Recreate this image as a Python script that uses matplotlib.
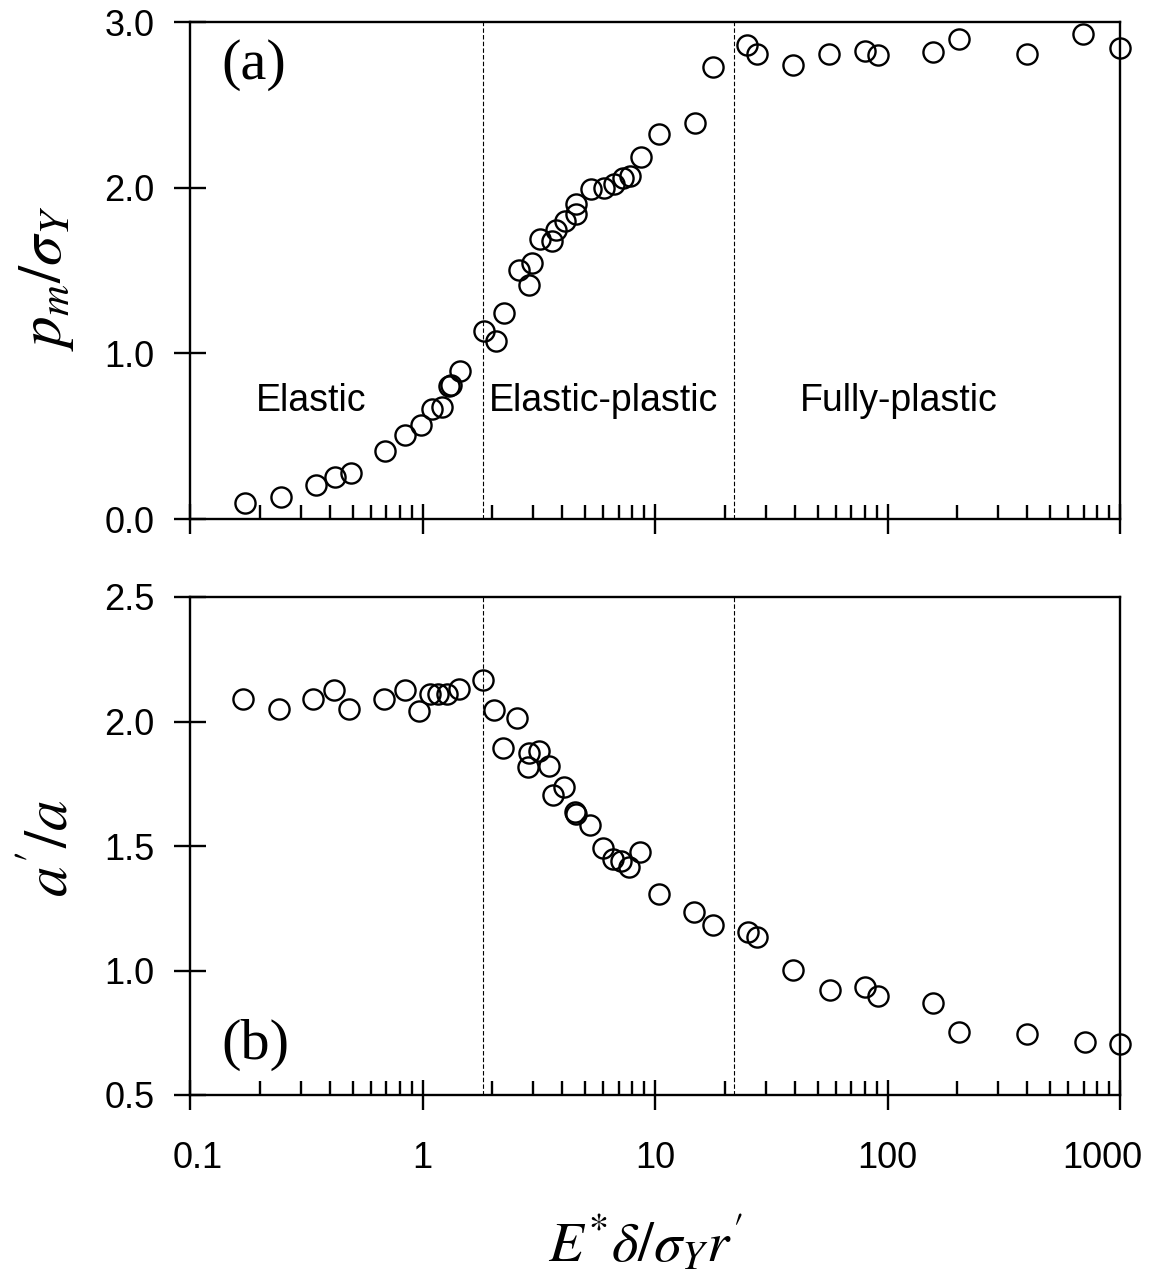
import matplotlib
matplotlib.use("Agg")
import matplotlib.pyplot as plt
from matplotlib.ticker import LogLocator, FixedLocator, NullFormatter, FixedFormatter
from matplotlib.transforms import ScaledTranslation

plt.rcParams['font.family'] = ['Liberation Sans', 'DejaVu Sans']
plt.rcParams['mathtext.fontset'] = 'stix'

# ---- data: panel (a) ----
x_a = [0.172, 0.246, 0.348, 0.42, 0.492, 0.69, 0.84, 0.986, 1.10, 1.21, 1.30, 1.32,
       1.45, 1.84, 2.07, 2.24, 2.60, 2.87, 2.96, 3.20, 3.61, 3.75, 4.10, 4.57, 4.57,
       5.31, 6.03, 6.66, 7.28, 7.8, 8.71, 10.4, 14.9, 17.8, 24.9, 27.5, 39.2, 56.0,
       80.0, 91.0, 157.0, 203.0, 398.0, 693.0, 1000.0]
pm_sy = [0.097, 0.133, 0.205, 0.254, 0.278, 0.41, 0.507, 0.567, 0.664, 0.676, 0.803, 0.81,
         0.893, 1.135, 1.074, 1.243, 1.503, 1.412, 1.545, 1.69, 1.68, 1.745, 1.80, 1.84, 1.90,
         1.99, 2.00, 2.02, 2.058, 2.07, 2.185, 2.324, 2.39, 2.728, 2.86, 2.806, 2.74, 2.806,
         2.824, 2.80, 2.818, 2.897, 2.806, 2.927, 2.842]

# ---- data: panel (b) ----
x_b = [0.169, 0.241, 0.338, 0.416, 0.483, 0.683, 0.841, 0.966, 1.077, 1.166, 1.274, 1.435,
       1.82, 2.03, 2.55, 2.22, 2.87, 3.17, 2.84, 3.50, 4.06, 3.64, 4.53, 4.57, 5.25, 5.97,
       6.59, 7.14, 7.73, 8.61, 10.4, 14.7, 17.8, 25.1, 27.5, 39.3, 56.6, 80.0, 91.0, 157.0,
       203.0, 398.0, 706.0, 1000.0]
ap_a = [2.09, 2.05, 2.09, 2.126, 2.05, 2.09, 2.126, 2.042, 2.11, 2.11, 2.11, 2.13,
        2.167, 2.046, 2.014, 1.894, 1.873, 1.882, 1.817, 1.821, 1.737, 1.705, 1.637, 1.628,
        1.584, 1.492, 1.448, 1.44, 1.416, 1.476, 1.307, 1.235, 1.183, 1.155, 1.135, 1.002,
        0.922, 0.934, 0.898, 0.869, 0.753, 0.745, 0.713, 0.705]

boundaries = [1.82, 21.9]
regions = ["Elastic", "Elastic-plastic", "Fully-plastic"]
region_x = [0.331, 6.03, 112.0]
region_y = 0.712
xticks = [0.1, 1, 10, 100, 1000]
xticklabels = ["0.1", "1", "10", "100", "1000"]
yticks_a = [0.0, 1.0, 2.0, 3.0]
yticks_b = [0.5, 1.0, 1.5, 2.0, 2.5]

fig = plt.figure(figsize=(11.57, 12.84), dpi=100)
L, W = 190/1157, 930/1157
ax1 = fig.add_axes([L, 1-519/1284, W, 497/1284])
ax2 = fig.add_axes([L, 1-1095/1284, W, 498/1284])

mk = dict(marker='o', ls='none', ms=14.5, mfc='none', mec='black', mew=1.7, clip_on=False, zorder=5)
ax1.plot(x_a, pm_sy, **mk)
ax2.plot(x_b, ap_a, **mk)

for ax, yt, ylim in ((ax1, yticks_a, (0, 3)), (ax2, yticks_b, (0.5, 2.5))):
    ax.set_xscale('log')
    ax.set_xlim(0.1, 1000)
    ax.set_ylim(*ylim)
    ax.xaxis.set_major_locator(FixedLocator(xticks))
    ax.xaxis.set_minor_locator(LogLocator(base=10, subs=range(2, 10), numticks=20))
    ax.xaxis.set_minor_formatter(NullFormatter())
    ax.set_yticks(yt)
    ax.set_yticklabels([f"{v:.1f}" for v in yt])
    for b in boundaries:
        ax.axvline(b, color='black', lw=0.8, ls=(0, (4, 2)), zorder=1)
    for s in ax.spines.values():
        s.set_linewidth(1.7)
    ax.tick_params(axis='x', which='major', direction='inout', length=22, width=1.7,
                   labelsize=26, pad=22)
    ax.tick_params(axis='x', which='minor', direction='in', length=10, width=1.7)
    ax.tick_params(axis='y', which='major', direction='inout', length=23, width=1.7,
                   labelsize=26, pad=14)

ax1.xaxis.set_major_formatter(NullFormatter())
ax2.xaxis.set_major_formatter(FixedFormatter(xticklabels))

for t, xr in zip(regions, region_x):
    ax1.text(xr, region_y, t, ha='center', va='center', fontsize=27)

ax1.text(0.034, 0.913, "(a)", transform=ax1.transAxes, ha='left', va='center',
         fontsize=42, family='Liberation Serif')
ax2.text(0.034, 0.10, "(b)", transform=ax2.transAxes, ha='left', va='center',
         fontsize=42, family='Liberation Serif')

fig.text(46/1157, 1-278/1284, r'$p_m/\sigma_Y$', fontsize=44, rotation=90,
         ha='center', va='center')
fig.text(52/1157, 1-848/1284, r'$a^{\prime}/a$', fontsize=44, rotation=90,
         ha='center', va='center')
fig.text(645/1157, 1-1245/1284, r'$E^{*}\delta/\sigma_Y r^{\prime}$', fontsize=41,
         ha='center', va='center')

# nudge the end tick labels inward as in the reference
fig.canvas.draw()
labels = ax2.xaxis.get_majorticklabels()
for lab, dx in ((labels[0], 8), (labels[-1], -18)):
    lab.set_transform(lab.get_transform() + ScaledTranslation(dx/100, 0, fig.dpi_scale_trans))

fig.savefig("out.png", dpi=100)
